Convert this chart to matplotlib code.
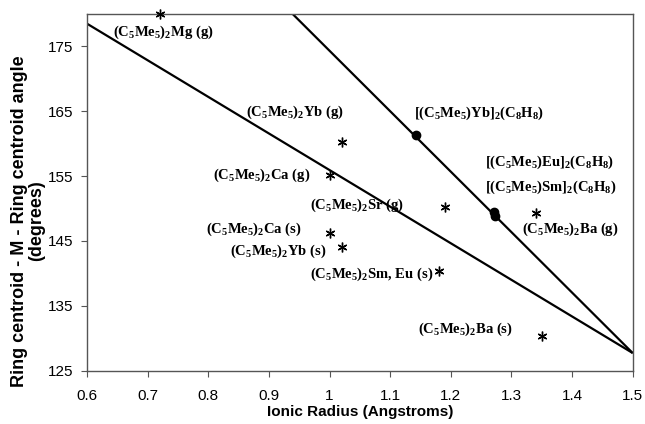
import matplotlib
matplotlib.use("Agg")
import matplotlib.pyplot as plt

plt.rcParams['mathtext.fontset'] = 'custom'
plt.rcParams['mathtext.rm'] = 'Liberation Serif:bold'
plt.rcParams['mathtext.it'] = 'Liberation Serif:bold'
plt.rcParams['mathtext.bf'] = 'Liberation Serif:bold'
plt.rcParams['mathtext.default'] = 'bf'

# Star (asterisk) data points
star_x = [0.72, 1.02, 1.00, 1.19, 1.00, 1.02, 1.18, 1.35, 1.34]
star_y = [180.0, 160.2, 155.1, 150.3, 146.2, 144.1, 140.3, 130.3, 149.3]

# Filled circle data points
dot_x = [1.142, 1.271, 1.272]
dot_y = [161.3, 149.5, 148.9]

# Lines
line1_x = [0.6, 1.5]
line1_y = [178.5, 127.7]
line2_x = [0.938, 1.5]
line2_y = [180.1, 127.7]

# Annotation labels
labels = [
    r'$(C_5Me_5)_2Mg$ (g)',
    r'$(C_5Me_5)_2Yb$ (g)',
    r'$(C_5Me_5)_2Ca$ (g)',
    r'$(C_5Me_5)_2Sr$ (g)',
    r'$(C_5Me_5)_2Ca$ (s)',
    r'$(C_5Me_5)_2Yb$ (s)',
    r'$(C_5Me_5)_2Sm$, Eu (s)',
    r'$(C_5Me_5)_2Ba$ (s)',
    r'$(C_5Me_5)_2Ba$ (g)',
    r'$[(C_5Me_5)Yb]_2(C_8H_8)$',
    r'$[(C_5Me_5)Eu]_2(C_8H_8)$',
    r'$[(C_5Me_5)Sm]_2(C_8H_8)$',
]
label_x = [0.643, 0.862, 0.808, 0.967, 0.796, 0.836, 0.967, 1.145, 1.318, 1.139, 1.256, 1.256]
label_y = [177.2, 164.85, 155.1, 150.5, 146.8, 143.4, 139.8, 131.3, 146.8, 164.7, 157.1, 153.2]

xticks = [0.6, 0.7, 0.8, 0.9, 1.0, 1.1, 1.2, 1.3, 1.4, 1.5]
xtick_labels = ['0.6', '0.7', '0.8', '0.9', '1', '1.1', '1.2', '1.3', '1.4', '1.5']
yticks = [125, 135, 145, 155, 165, 175]

fig = plt.figure(figsize=(6.45, 4.24), dpi=100)
ax = fig.add_axes([0.135, 0.126, 0.846, 0.841])

ax.plot(line1_x, line1_y, color='black', lw=1.6, solid_capstyle='butt', zorder=2)
ax.plot(line2_x, line2_y, color='black', lw=1.6, solid_capstyle='butt', zorder=2)
ax.plot(star_x, star_y, linestyle='none', marker=(6, 2, 0), markersize=7,
        markeredgewidth=1.0, color='black', clip_on=False, zorder=3)
ax.plot(dot_x, dot_y, linestyle='none', marker='o', markersize=6,
        color='black', zorder=3)

for t, x, y in zip(labels, label_x, label_y):
    ax.text(x, y, t, fontsize=10.5, family='Liberation Serif', fontweight='bold',
            ha='left', va='center', zorder=4)

ax.set_xlim(0.6, 1.5)
ax.set_ylim(125, 180)
ax.set_xticks(xticks)
ax.set_xticklabels(xtick_labels)
ax.set_yticks(yticks)
for lab in ax.get_xticklabels() + ax.get_yticklabels():
    lab.set_family('Liberation Sans')
    lab.set_fontsize(11)
ax.tick_params(axis='both', direction='out', length=4, width=0.8, color='#555555', pad=6)
ax.tick_params(axis='x', pad=9)

for s in ax.spines.values():
    s.set_color('#555555')
    s.set_linewidth(1.0)

ax.set_xlabel('Ionic Radius (Angstroms)', family='Liberation Sans', fontweight='bold',
              fontsize=11, labelpad=2)
fig.text(28 / 645, 1 - 221 / 424, 'Ring centroid - M - Ring centroid angle\n(degrees)',
         family='Liberation Sans', fontweight='bold', fontsize=13, rotation=90,
         ha='center', va='center', multialignment='center', linespacing=1.05)

fig.savefig('out.png', dpi=100)
